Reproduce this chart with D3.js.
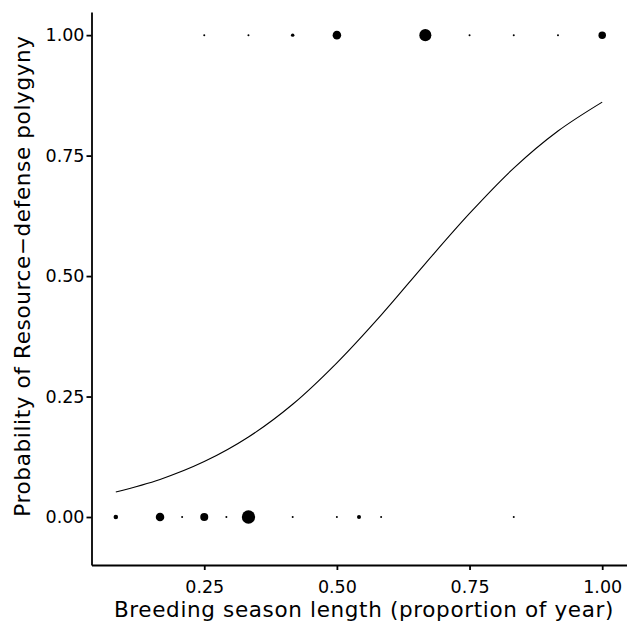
<!DOCTYPE html>
<html><head><meta charset="utf-8">
<script src="https://cdn.jsdelivr.net/npm/d3@7"></script>
<style>body{margin:0;background:#fff}svg{display:block}text{font-family:"DejaVu Sans",Verdana,sans-serif}</style>
</head><body><div id="chart"></div>
<script>
// Observed species: breeding season length in months (x = months/12), outcome (0/1), count (marker size)
const topMonths = [3, 4, 5, 6, 8, 9, 10, 11, 12];
const topCounts = [1, 1, 3, 18, 36, 1, 1, 1, 14];
const bottomMonths = [1, 2, 2.5, 3, 3.5, 4, 5, 6, 6.5, 7, 10];
const bottomCounts = [5, 18, 1, 16, 1, 44, 1, 1, 4, 1, 1];
// Fitted curve
const curveMonths = [1, 2, 3, 4, 5, 6, 7, 8, 9, 10, 11, 12];
const curveP = [0.052, 0.078, 0.115, 0.166, 0.234, 0.320, 0.419, 0.526, 0.630, 0.724, 0.801, 0.861];
const xTicks = [0.25, 0.50, 0.75, 1.00];
const yTicks = [0.00, 0.25, 0.50, 0.75, 1.00];
const xTitle = "Breeding season length (proportion of year)";
const yTitle = "Probability of Resource\u2212defense polygyny";

const W = 631, H = 627;
const svg = d3.select("#chart").append("svg").attr("width", W).attr("height", H);
const x = d3.scaleLinear().domain([0.0375, 1.0458]).range([91.5, 626.5]);
const y = d3.scaleLinear().domain([-0.0996, 1.048]).range([565, 12]);
const r = d3.scaleSqrt().domain([0, 42]).range([0, 6.5]);

const pts = topMonths.map((m, i) => ({x: m / 12, y: 1, n: topCounts[i]}))
  .concat(bottomMonths.map((m, i) => ({x: m / 12, y: 0, n: bottomCounts[i]})));

// curve
const line = d3.line().x(d => x(d.x)).y(d => y(d.p)).curve(d3.curveCatmullRom);
svg.append("path")
  .datum(curveMonths.map((m, i) => ({x: m / 12, p: curveP[i]})))
  .attr("d", line).attr("fill", "none").attr("stroke", "#000").attr("stroke-width", 1.1);

// points
svg.append("g").selectAll("circle").data(pts).join("circle")
  .attr("cx", d => x(d.x)).attr("cy", d => y(d.y)).attr("r", d => r(d.n)).attr("fill", "#000");

// axes
const fmt = d3.format(".2f");
const xAxis = svg.append("g").attr("transform", "translate(0,565)")
  .call(d3.axisBottom(x).tickValues(xTicks).tickFormat(fmt).tickSize(5).tickSizeOuter(0));
const yAxis = svg.append("g").attr("transform", "translate(91.5,0)")
  .call(d3.axisLeft(y).tickValues(yTicks).tickFormat(fmt).tickSize(5).tickSizeOuter(0));
[xAxis, yAxis].forEach(a => {
  a.select(".domain").attr("stroke", "#000").attr("stroke-width", 1.8);
  a.selectAll(".tick line").attr("stroke", "#000").attr("stroke-width", 1.8);
  a.selectAll(".tick text").attr("fill", "#000").attr("font-size", 17.5)
    .attr("font-family", "DejaVu Sans, Verdana, sans-serif");
});
xAxis.selectAll(".tick text").attr("dy", null).attr("y", 28);
yAxis.selectAll(".tick text").attr("x", -7);

svg.append("text").attr("x", 364).attr("y", 617).attr("text-anchor", "middle")
  .attr("font-size", 21.5).attr("letter-spacing", 0.65).text(xTitle);
svg.append("text").attr("transform", "translate(29.5,276) rotate(-90)").attr("text-anchor", "middle")
  .attr("font-size", 21.5).attr("letter-spacing", 0.65).text(yTitle);
</script></body></html>
